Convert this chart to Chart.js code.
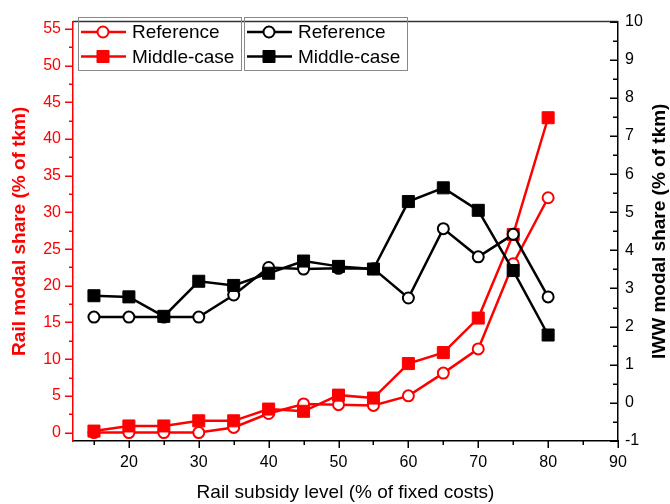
<!DOCTYPE html>
<html>
<head>
<meta charset="utf-8">
<script src="https://cdn.jsdelivr.net/npm/chart.js@4.4.1/dist/chart.umd.min.js"></script>
<style>
  html, body { margin: 0; padding: 0; background: #fff; }
  #wrap { width: 670px; height: 504px; position: relative; }
</style>
</head>
<body>
<div id="wrap"><canvas id="myChart" width="670" height="504"></canvas></div>
<script>
// x values: rail subsidy level
var subsidy = [15, 20, 25, 30, 35, 40, 45, 50, 55, 60, 65, 70, 75, 80];

// rail modal share (left axis, red)
var railRef = [0, 0, 0, 0, 0.7, 2.6, 3.9, 3.8, 3.7, 5.0, 8.1, 11.4, 23.0, 32.0];
var railMid = [0.2, 0.9, 0.9, 1.6, 1.6, 3.2, 2.9, 5.1, 4.7, 9.4, 10.9, 15.6, 27.0, 42.9];

// IWW modal share (right axis, black)
var iwwRef = [2.25, 2.25, 2.25, 2.25, 2.83, 3.55, 3.51, 3.53, 3.52, 2.75, 4.57, 3.83, 4.42, 2.78];
var iwwMid = [2.81, 2.78, 2.27, 3.19, 3.08, 3.40, 3.72, 3.58, 3.51, 5.28, 5.64, 5.05, 3.47, 1.78];

// tick labels
var xTicks = [20, 30, 40, 50, 60, 70, 80, 90];
var leftTicks = [0, 5, 10, 15, 20, 25, 30, 35, 40, 45, 50, 55];
var rightTicks = [-1, 0, 1, 2, 3, 4, 5, 6, 7, 8, 9, 10];

var RED = "#ff0000";
var FONT = "'Liberation Sans', Arial, sans-serif";

function pts(ys) {
    return subsidy.map(function (x, i) { return { x: x, y: ys[i] }; });
}

// minor ticks sit half way between the labelled ones
function minors(majors, lo, hi) {
    var step = majors[1] - majors[0];
    var out = [];
    for (var v = majors[0] - step / 2; v <= hi; v += step) {
        if (v >= lo) out.push(v);
    }
    return out;
}

function majorTicks(list) {
    return function (axis) {
        axis.ticks = list.map(function (v) { return { value: v }; });
    };
}

const frameAndLegend = {
    id: "frameAndLegend",
    afterDraw(chart) {
        const ctx = chart.ctx;
        const a = chart.chartArea;
        const sx = chart.scales.x, sy = chart.scales.y, sy1 = chart.scales.y1;

        ctx.save();
        // top border
        ctx.strokeStyle = "#333";
        ctx.lineWidth = 1.5;
        ctx.beginPath();
        ctx.moveTo(a.left, a.top);
        ctx.lineTo(a.right, a.top);
        ctx.stroke();

        // tick marks: bottom and left point out, right points in
        function marks(values, len, color, fn) {
            ctx.strokeStyle = color;
            ctx.lineWidth = 1.5;
            ctx.beginPath();
            values.forEach(function (v) { fn(v, len); });
            ctx.stroke();
        }
        function xMark(v, len) {
            const p = Math.round(sx.getPixelForValue(v)) + 0.25;
            ctx.moveTo(p, a.bottom); ctx.lineTo(p, a.bottom + len);
        }
        function yMark(v, len) {
            const p = Math.round(sy.getPixelForValue(v)) + 0.25;
            ctx.moveTo(a.left, p); ctx.lineTo(a.left - len, p);
        }
        function y1Mark(v, len) {
            const p = Math.round(sy1.getPixelForValue(v)) + 0.25;
            ctx.moveTo(a.right, p); ctx.lineTo(a.right - len, p);
        }
        marks(xTicks, 7, "#000", xMark);
        marks(minors(xTicks, 12, 90), 4, "#000", xMark);
        marks(leftTicks, 8, RED, yMark);
        marks(minors(leftTicks, -1.15, 56), 4, RED, yMark);
        marks(rightTicks, 8, "#000", y1Mark);
        marks(minors(rightTicks, -1, 10), 5, "#000", y1Mark);

        // right axis title, read bottom to top
        ctx.fillStyle = "#000";
        ctx.font = "bold 19px " + FONT;
        ctx.textAlign = "center";
        ctx.textBaseline = "middle";
        ctx.translate(660, (a.top + a.bottom) / 2);
        ctx.rotate(-Math.PI / 2);
        ctx.fillText("IWW modal share (% of tkm)", 0, 0);
        ctx.restore();

        // two legend boxes
        const boxes = [
            { x: 78, sets: [0, 1], color: RED },
            { x: 244, sets: [2, 3], color: "#000" }
        ];
        boxes.forEach(function (b) {
            ctx.save();
            ctx.strokeStyle = "#888";
            ctx.lineWidth = 1;
            ctx.strokeRect(b.x + 0.5, 17.5, 163, 53);
            b.sets.forEach(function (di, row) {
                const ds = chart.data.datasets[di];
                const y = 32 + row * 24.5;
                ctx.strokeStyle = b.color;
                ctx.lineWidth = 2.5;
                ctx.beginPath();
                ctx.moveTo(b.x + 3, y);
                ctx.lineTo(b.x + 48, y);
                ctx.stroke();
                ctx.fillStyle = ds.pointBackgroundColor;
                ctx.strokeStyle = ds.pointBorderColor;
                ctx.lineWidth = ds.pointBorderWidth;
                ctx.beginPath();
                if (ds.pointStyle === "rect") {
                    const s = ds.pointRadius * Math.SQRT1_2;
                    ctx.rect(b.x + 25 - s, y - s, 2 * s, 2 * s);
                } else {
                    ctx.arc(b.x + 25, y, ds.pointRadius, 0, Math.PI * 2);
                }
                ctx.fill();
                ctx.stroke();
                ctx.fillStyle = "#000";
                ctx.font = "19px " + FONT;
                ctx.textAlign = "left";
                ctx.textBaseline = "middle";
                ctx.fillText(ds.label, b.x + 54, y + 1);
            });
            ctx.restore();
        });
    }
};

new Chart("myChart", {
    type: "line",
    data: {
        datasets: [
            {
                label: "Reference",
                data: pts(railRef),
                yAxisID: "y",
                borderColor: RED,
                borderWidth: 2.5,
                pointStyle: "circle",
                pointRadius: 5.5,
                pointBorderWidth: 2,
                pointBackgroundColor: "#fff",
                pointBorderColor: RED,
                order: 4
            },
            {
                label: "Middle-case",
                data: pts(railMid),
                yAxisID: "y",
                borderColor: RED,
                borderWidth: 2.5,
                pointStyle: "rect",
                pointRadius: 8.5,
                pointBorderWidth: 1,
                pointBackgroundColor: RED,
                pointBorderColor: RED,
                order: 3
            },
            {
                label: "Reference",
                data: pts(iwwRef),
                yAxisID: "y1",
                borderColor: "#000",
                borderWidth: 2.5,
                pointStyle: "circle",
                pointRadius: 5.5,
                pointBorderWidth: 2,
                pointBackgroundColor: "#fff",
                pointBorderColor: "#000",
                order: 2
            },
            {
                label: "Middle-case",
                data: pts(iwwMid),
                yAxisID: "y1",
                borderColor: "#000",
                borderWidth: 2.5,
                pointStyle: "rect",
                pointRadius: 8.5,
                pointBorderWidth: 1,
                pointBackgroundColor: "#000",
                pointBorderColor: "#000",
                order: 1
            }
        ]
    },
    options: {
        responsive: false,
        animation: false,
        events: [],
        layout: { padding: { top: 14, left: 0, right: 0, bottom: 0 } },
        plugins: {
            legend: { display: false },
            tooltip: { enabled: false }
        },
        elements: { line: { tension: 0 } },
        scales: {
            x: {
                type: "linear",
                min: 12,
                max: 90,
                afterBuildTicks: majorTicks(xTicks),
                afterFit: function (axis) { axis.height = 63; },
                border: { display: true, color: "#000", width: 1.5 },
                grid: { display: false, drawTicks: false },
                ticks: {
                    autoSkip: false,
                    maxRotation: 0,
                    padding: 12,
                    color: "#000",
                    font: { family: FONT, size: 16 }
                },
                title: {
                    display: true,
                    text: "Rail subsidy level (% of fixed costs)",
                    color: "#000",
                    font: { family: FONT, size: 19 },
                    padding: { top: 0, bottom: 0 }
                }
            },
            y: {
                type: "linear",
                position: "left",
                min: -1.15,
                max: 56,
                afterBuildTicks: majorTicks(leftTicks),
                afterFit: function (axis) { axis.width = 73; },
                border: { display: true, color: RED, width: 1.5 },
                grid: { display: false, drawTicks: false },
                ticks: {
                    autoSkip: false,
                    padding: 12,
                    color: RED,
                    font: { family: FONT, size: 16 }
                },
                title: {
                    display: true,
                    text: "Rail modal share (% of tkm)",
                    color: RED,
                    font: { family: FONT, size: 19, weight: "bold" },
                    padding: { top: 8, bottom: 0 }
                }
            },
            y1: {
                type: "linear",
                position: "right",
                min: -1,
                max: 10,
                afterBuildTicks: majorTicks(rightTicks),
                afterFit: function (axis) { axis.width = 52; },
                border: { display: true, color: "#000", width: 1.5 },
                grid: { display: false, drawTicks: false },
                ticks: {
                    autoSkip: false,
                    padding: 7,
                    color: "#000",
                    font: { family: FONT, size: 16 }
                }
            }
        }
    },
    plugins: [frameAndLegend]
});
</script>
</body>
</html>
